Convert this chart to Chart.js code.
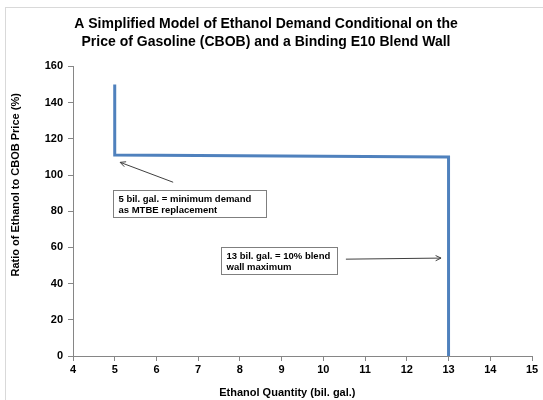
<!DOCTYPE html>
<html>
<head>
<meta charset="utf-8">
<title>Ethanol Demand</title>
<script src="https://cdn.jsdelivr.net/npm/chart.js@4"></script>
<style>
  html, body { margin: 0; padding: 0; background: #fff; }
  #wrap { width: 543px; height: 400px; position: relative; }
</style>
</head>
<body>
<div id="wrap"><canvas id="chart"></canvas></div>
<script>
// ── Data ──
const quantity = [5, 5, 13, 13];        // bil. gal.
const ratio    = [150, 111, 110, 0];    // % of CBOB price
const xTicks   = [4, 5, 6, 7, 8, 9, 10, 11, 12, 13, 14, 15];
const yTicks   = [0, 20, 40, 60, 80, 100, 120, 140, 160];

// Callout boxes: anchor (top-left) in data units + text lines
const noteAnchors = [[4.96, 91.6], [7.55, 60.1]];
const noteLines   = [
  ['5 bil. gal. = minimum demand', 'as MTBE replacement'],
  ['13 bil. gal. = 10% blend', 'wall maximum']
];
// Arrows: [fromX, fromY, toX, toY] in data units
const arrows = [
  [6.40, 96.0, 5.13, 107.0],
  [10.54, 53.5, 12.82, 54.1]
];

const FONT = '"Liberation Sans", Arial, sans-serif';
const AXIS = '#868686';
const boxW = [153, 116], boxH = 27;

// ── Outer frame ──
const framePlugin = {
  id: 'frame',
  beforeDraw(chart) {
    const ctx = chart.ctx;
    ctx.save();
    ctx.fillStyle = '#fff';
    ctx.fillRect(0, 0, chart.width, chart.height);
    ctx.strokeStyle = '#d9d9d9';
    ctx.lineWidth = 1;
    ctx.strokeRect(5.5, 7.5, chart.width + 10, chart.height + 10);
    ctx.restore();
  }
};

// ── Axis titles, callouts and arrows ──
const notesPlugin = {
  id: 'notes',
  afterDatasetsDraw(chart) {
    const { ctx, chartArea, scales: { x, y } } = chart;
    ctx.save();
    ctx.fillStyle = '#000';
    ctx.font = 'bold 11px ' + FONT;
    ctx.textAlign = 'center';
    ctx.textBaseline = 'middle';
    ctx.fillText('Ethanol Quantity (bil. gal.)', chartArea.left + chartArea.width * 0.467, 393);
    ctx.save();
    ctx.translate(16, chartArea.top + chartArea.height * 0.409);
    ctx.rotate(-Math.PI / 2);
    ctx.fillText('Ratio of Ethanol to CBOB Price (%)', 0, 0);
    ctx.restore();

    ctx.textAlign = 'left';
    ctx.font = 'bold 9.5px ' + FONT;
    noteAnchors.forEach((a, i) => {
      const left = Math.round(x.getPixelForValue(a[0])) + 0.5;
      const top  = Math.round(y.getPixelForValue(a[1])) + 0.5;
      ctx.fillStyle = '#fff';
      ctx.fillRect(left, top, boxW[i], boxH);
      ctx.strokeStyle = '#7f7f7f';
      ctx.lineWidth = 1;
      ctx.strokeRect(left, top, boxW[i], boxH);
      ctx.fillStyle = '#000';
      noteLines[i].forEach((l, j) => ctx.fillText(l, left + 5, top + 9 + j * 10.5));
    });

    arrows.forEach(ar => {
      const x1 = x.getPixelForValue(ar[0]), y1 = y.getPixelForValue(ar[1]);
      const x2 = x.getPixelForValue(ar[2]), y2 = y.getPixelForValue(ar[3]);
      const ang = Math.atan2(y2 - y1, x2 - x1);
      ctx.strokeStyle = '#404040';
      ctx.lineWidth = 1;
      ctx.beginPath();
      ctx.moveTo(x1, y1);
      ctx.lineTo(x2, y2);
      ctx.stroke();
      ctx.beginPath();
      ctx.moveTo(x2 - 6 * Math.cos(ang - 0.45), y2 - 6 * Math.sin(ang - 0.45));
      ctx.lineTo(x2, y2);
      ctx.lineTo(x2 - 6 * Math.cos(ang + 0.45), y2 - 6 * Math.sin(ang + 0.45));
      ctx.stroke();
    });
    ctx.restore();
  }
};

new Chart(document.getElementById('chart'), {
  type: 'scatter',
  data: {
    datasets: [{
      data: quantity.map((q, i) => ({ x: q, y: ratio[i] })),
      showLine: true,
      borderColor: '#4F81BD',
      borderWidth: 3,
      pointRadius: 0,
      fill: false,
      tension: 0
    }]
  },
  options: {
    responsive: true,
    maintainAspectRatio: false,
    animation: false,
    layout: { padding: { left: 0, right: 11, top: 0, bottom: 2 } },
    plugins: {
      legend: { display: false },
      tooltip: { enabled: false },
      title: {
        display: true,
        text: ['A Simplified Model of Ethanol Demand Conditional on the',
               'Price of Gasoline (CBOB) and a Binding E10 Blend Wall'],
        color: '#000',
        font: { family: FONT, size: 14, weight: 'bold', lineHeight: 1.3 },
        padding: { top: 15, bottom: 15 }
      }
    },
    scales: {
      x: {
        type: 'linear',
        min: 4, max: 15,
        afterBuildTicks: s => { s.ticks = xTicks.map(v => ({ value: v })); },
        afterFit: s => { s.height = 42; },
        grid: { display: true, drawOnChartArea: false, tickLength: 5, color: AXIS },
        border: { color: AXIS },
        ticks: { color: '#000', font: { family: FONT, size: 11, weight: 'bold' }, padding: 2 }
      },
      y: {
        type: 'linear',
        min: 0, max: 160,
        afterBuildTicks: s => { s.ticks = yTicks.map(v => ({ value: v })); },
        afterFit: s => { s.width = 73; },
        grid: { display: true, drawOnChartArea: false, tickLength: 5, color: AXIS },
        border: { color: AXIS },
        ticks: { color: '#000', font: { family: FONT, size: 11, weight: 'bold' }, padding: 5 }
      }
    }
  },
  plugins: [framePlugin, notesPlugin]
});
</script>
</body>
</html>
